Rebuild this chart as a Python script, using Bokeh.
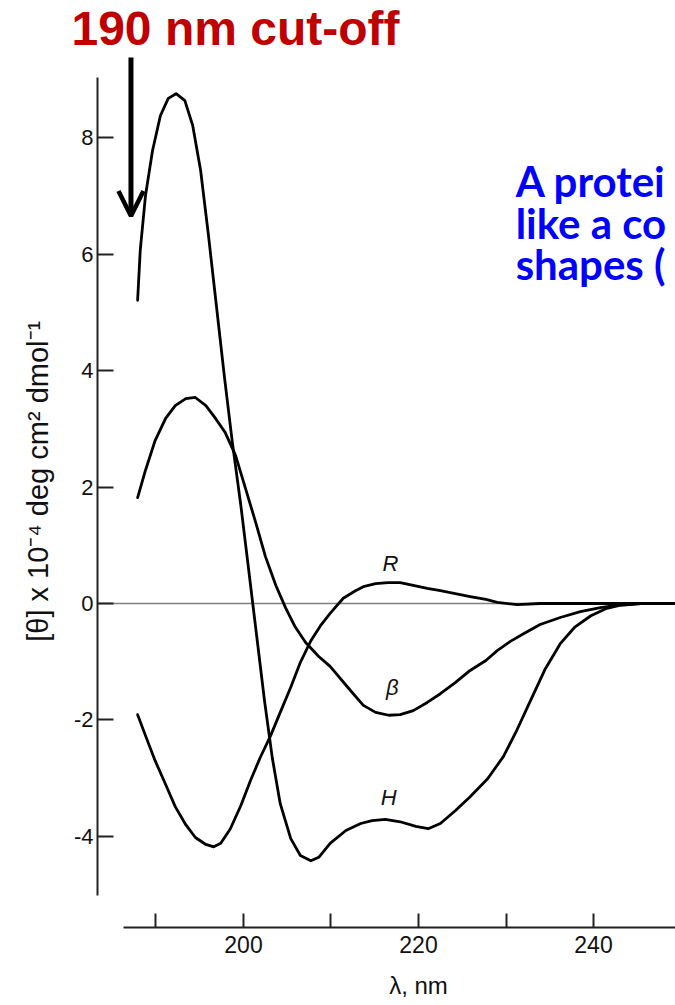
import math
from bokeh.plotting import figure
from bokeh.models import (Range1d, FixedTicker, Label, Arrow, OpenHead)
from bokeh.embed import file_html
from bokeh.resources import INLINE

# ---------------- data (wavelength in nm, [theta] x 10^-4) ----------------
h_wl = [187.9, 188.2, 188.8, 189.6, 190.5, 191.4, 192.3, 193.3, 194.2, 195.1,
        196.0, 196.9, 197.8, 198.7, 199.7, 200.6, 201.5, 202.4, 203.3, 204.2,
        205.4, 206.5, 207.7, 208.6, 209.9, 211.7, 213.4, 214.7, 216.2, 217.9,
        219.7, 221.1, 222.5, 224.2, 225.9, 227.9, 229.7, 231.1, 232.8, 234.5,
        236.2, 237.9, 239.7, 241.4, 243.1, 245.4, 250.0]
h_val = [5.21, 6.07, 7.01, 7.78, 8.38, 8.68, 8.76, 8.64, 8.21, 7.44,
         6.32, 5.12, 3.92, 2.80, 1.68, 0.57, -0.55, -1.67, -2.66, -3.44,
         -4.04, -4.33, -4.42, -4.36, -4.12, -3.90, -3.78, -3.73, -3.71, -3.75,
         -3.83, -3.87, -3.78, -3.56, -3.32, -3.01, -2.63, -2.22, -1.67, -1.12,
         -0.69, -0.40, -0.21, -0.09, -0.03, 0.0, 0.0]

b_wl = [187.9, 188.8, 189.9, 191.1, 192.2, 193.4, 194.5, 195.7, 196.8, 197.9,
        199.1, 200.2, 201.4, 202.5, 203.7, 204.8, 205.9, 207.1, 208.6, 209.9,
        212.2, 213.7, 215.1, 216.6, 217.9, 219.4, 221.0, 222.5, 224.2, 225.9,
        227.7, 229.0, 230.5, 232.0, 233.9, 236.2, 238.5, 240.8, 243.1, 245.4, 250.0]
b_val = [1.82, 2.29, 2.80, 3.18, 3.40, 3.52, 3.54, 3.40, 3.18, 2.94,
         2.54, 1.99, 1.39, 0.81, 0.31, -0.07, -0.40, -0.67, -0.91, -1.08,
         -1.49, -1.75, -1.87, -1.92, -1.91, -1.84, -1.70, -1.55, -1.36, -1.15,
         -0.98, -0.81, -0.65, -0.52, -0.36, -0.24, -0.14, -0.07, -0.02, 0.0, 0.0]

r_wl = [187.9, 188.8, 189.9, 191.1, 192.2, 193.4, 194.5, 195.7, 196.6, 197.4,
        198.5, 199.7, 200.8, 201.9, 203.1, 204.2, 205.4, 206.5, 207.7, 208.8,
        209.9, 211.4, 212.8, 213.7, 215.1, 216.5, 217.9, 219.4, 221.0, 222.5,
        224.2, 225.9, 227.7, 229.0, 231.3, 233.9, 250.0]
r_val = [-1.91, -2.27, -2.70, -3.11, -3.49, -3.80, -4.02, -4.14, -4.18, -4.12,
         -3.87, -3.47, -3.04, -2.65, -2.27, -1.87, -1.44, -1.01, -0.64, -0.38,
         -0.17, 0.09, 0.22, 0.29, 0.34, 0.36, 0.36, 0.31, 0.26, 0.22,
         0.17, 0.12, 0.07, 0.02, -0.02, 0.0, 0.0]

x_ticks = [190, 200, 210, 220, 230, 240]
x_tick_labels = {190: "", 200: "200", 210: "", 220: "220", 230: "", 240: "240"}
y_ticks = [-4, -2, 0, 2, 4, 6, 8]
y_tick_labels = {-4: "-4", -2: "-2", 0: "0", 2: "2", 4: "4", 6: "6", 8: "8"}

curve_names = ["R", "β", "H"]
title_text = "190 nm cut-off"
side_lines = ["A protei", "like a co", "shapes ("]
y_label = "[θ] x 10⁻⁴ deg cm² dmol⁻¹"
x_label = "λ, nm"

# plot extent (data units)
X_MIN, X_MAX = 172.229, 249.371
Y_MIN, Y_MAX = -6.907, 10.361
Y_AXIS_AT = 183.314      # wavelength where the vertical axis sits
X_AXIS_AT = -5.568       # theta where the horizontal axis sits

# ---------------- figure ----------------
p = figure(width=675, height=1005,
           x_range=Range1d(X_MIN, X_MAX), y_range=Range1d(Y_MIN, Y_MAX),
           output_backend="svg", toolbar_location=None,
           min_border_left=0, min_border_right=0,
           min_border_top=0, min_border_bottom=0)
p.outline_line_color = None
p.xgrid.grid_line_color = None
p.ygrid.grid_line_color = None
p.background_fill_color = "white"
p.border_fill_color = "white"

axis_font = "Liberation Sans"

xa = p.xaxis[0]
xa.fixed_location = X_AXIS_AT
xa.bounds = (186.3, 252)
xa.ticker = FixedTicker(ticks=x_ticks)
xa.major_label_overrides = x_tick_labels
xa.major_tick_in = 14
xa.major_tick_out = 0
xa.minor_tick_line_color = None
xa.axis_line_width = 2
xa.axis_line_color = "#222222"
xa.major_tick_line_width = 2
xa.major_tick_line_color = "#222222"
xa.major_label_text_font = axis_font
xa.major_label_text_font_size = "23px"
xa.major_label_text_color = "#111111"
xa.major_label_standoff = 8

ya = p.yaxis[0]
ya.fixed_location = Y_AXIS_AT
ya.bounds = (-5.02, 9.03)
ya.ticker = FixedTicker(ticks=y_ticks)
ya.major_label_overrides = y_tick_labels
ya.major_tick_in = 16
ya.major_tick_out = 0
ya.minor_tick_line_color = None
ya.axis_line_width = 2
ya.axis_line_color = "#222222"
ya.major_tick_line_width = 2
ya.major_tick_line_color = "#222222"
ya.major_label_text_font = axis_font
ya.major_label_text_font_size = "22px"
ya.major_label_text_color = "#111111"
ya.major_label_standoff = 4

# zero reference line from the vertical axis to the right edge
p.segment(x0=[Y_AXIS_AT], y0=[0], x1=[X_MAX], y1=[0], line_color="#808080", line_width=1.5)

for wl, val in [(h_wl, h_val), (b_wl, b_val), (r_wl, r_val)]:
    p.line(wl, val, line_color="black", line_width=2.8,
           line_join="round", line_cap="round")

# curve labels
for name, (lx, ly) in zip(curve_names, [(216.8, 0.69), (217.0, -1.44), (216.6, -3.33)]):
    p.add_layout(Label(x=lx, y=ly, text=name, text_font=axis_font,
                       text_font_style="italic", text_font_size="22px",
                       text_align="center", text_baseline="middle", text_color="#111111"))

# axis titles
p.add_layout(Label(x=176.46, y=2.10, text=y_label, angle=math.pi / 2,
                   text_font=axis_font, text_font_size="29px",
                   text_align="center", text_baseline="middle", text_color="#111111"))
p.add_layout(Label(x=220.0, y=-6.56, text=x_label,
                   text_font=axis_font, text_font_size="24px",
                   text_align="center", text_baseline="middle", text_color="#111111"))

# headline and arrow
p.add_layout(Label(x=180.34, y=9.88, text=title_text, text_font=axis_font,
                   text_font_style="bold", text_font_size="48px",
                   text_color="#C00000", text_align="left", text_baseline="middle"))
p.add_layout(Arrow(end=OpenHead(size=25, line_width=4.5, line_color="black"),
                   x_start=187.14, y_start=9.38, x_end=187.14, y_end=6.66,
                   line_width=5, line_color="black"))

# side text (runs to the right edge)
for txt, by in zip(side_lines, [7.268, 6.546, 5.825]):
    p.add_layout(Label(x=231.1, y=by, text=txt, text_font="Lato",
                       text_font_style="bold", text_font_size="42px",
                       text_color="#0000FF", text_align="left", text_baseline="middle"))

open("out.html", "w").write(file_html(p, INLINE))
